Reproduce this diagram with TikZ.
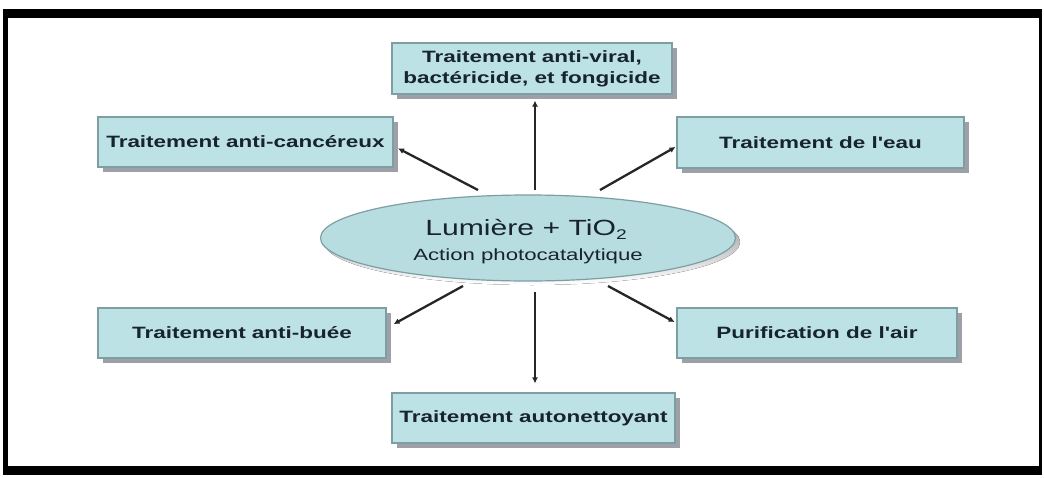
\documentclass[tikz,border=0pt]{standalone}
\usepackage{fontspec}
\usetikzlibrary{shapes.geometric,shadows,arrows.meta}
\newfontfamily\sansx[FakeStretch=1.37]{Liberation Sans}
\definecolor{boxfill}{HTML}{BCE2E5}
\definecolor{boxline}{HTML}{7E9EA4}
\definecolor{shade}{HTML}{9EA0A8}
\definecolor{txt}{HTML}{17232E}
\definecolor{ellfill}{HTML}{B8DDE1}
\definecolor{arrc}{HTML}{262626}
\tikzset{
  tbox/.style={draw=boxline, line width=1.2pt, fill=boxfill, rectangle,
    drop shadow={shadow xshift=5pt, shadow yshift=-5pt, fill=shade, opacity=1},
    text=txt, font=\sansx\bfseries\fontsize{16.4}{21}\selectfont, align=center, inner sep=0pt},
  arr/.style={draw=arrc, line width=2.3pt, -{Latex[length=6pt,width=6pt]}},
}
\begin{document}
\begin{tikzpicture}[x=1pt,y=-1pt]
\useasboundingbox (0,0) rectangle (1044,477);
\fill[white] (0,0) rectangle (1044,477);
\fill[black] (3,9) rectangle (1042,475);
\fill[white] (8,18) rectangle (1039,466);

% boxes
\node[tbox, minimum width=280pt, minimum height=51pt] (tv) at (532,68.5) {Traitement anti-viral,\\bactéricide, et fongicide};
\node[tbox, minimum width=295pt, minimum height=50pt] (cancer) at (245.5,142) {Traitement anti-cancéreux};
\node[tbox, minimum width=287pt, minimum height=51pt] (eau) at (820.5,142.5) {Traitement de l'eau};
\node[tbox, minimum width=288pt, minimum height=50pt] (buee) at (242,333) {Traitement anti-buée};
\node[tbox, minimum width=280pt, minimum height=50pt] (air) at (817,333) {Purification de l'air};
\node[tbox, minimum width=283pt, minimum height=50pt] (auto) at (533.5,418) {Traitement autonettoyant};

% central ellipse
\fill[shade] (532,242) ellipse [x radius=208pt, y radius=43pt];
\node[ellipse, draw=boxline, line width=1.2pt, fill=ellfill, minimum width=415pt, minimum height=86pt, inner sep=0pt] (ell) at (528,238) {};
\node[text=txt, font=\sansx\fontsize{22}{22}\selectfont, anchor=base] (l1) at (526,235) {Lumière + TiO\raisebox{-0.35ex}{\fontsize{14}{14}\selectfont 2}};
\node[text=txt, font=\sansx\fontsize{16.2}{16}\selectfont, anchor=base] (l2) at (528,260) {Action photocatalytique};

% arrow starts
\coordinate (s1) at (478,190);
\coordinate (s2) at (535,190);
\coordinate (s3) at (600,190);
\coordinate (s4) at (463,286);
\coordinate (s5) at (535,292);
\coordinate (s6) at (608,286);

\draw[arr, shorten >=5pt] (s1) -- ([yshift=-4pt]cancer.east);
\draw[arr, shorten >=6pt] (s2) -- (tv.south -| s2);
\draw[arr, shorten >=1pt] (s3) -- ([yshift=-4pt]eau.west);
\draw[arr, shorten >=8pt] (s4) -- ([yshift=5pt]buee.east);
\draw[arr, shorten >=9pt] (s5) -- (auto.north -| s5);
\draw[arr, shorten >=2pt] (s6) -- ([yshift=10pt]air.west);
\end{tikzpicture}
\end{document}
